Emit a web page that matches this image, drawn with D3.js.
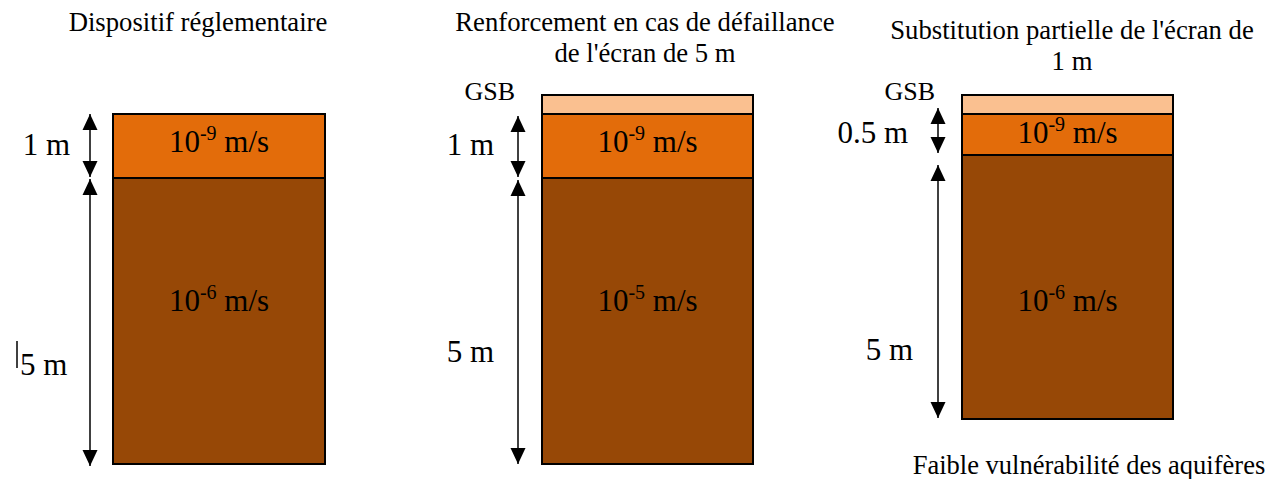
<!DOCTYPE html>
<html>
<head>
<meta charset="utf-8">
<script src="https://cdn.jsdelivr.net/npm/d3@7"></script>
<style>
  body { margin: 0; background: #fff; }
  svg text { font-family: "Liberation Serif", "DejaVu Serif", serif; }
</style>
</head>
<body>
<svg id="drawing_region"></svg>
<script>
// ---- data ----
const titles = [
    ["Dispositif réglementaire"],
    ["Renforcement en cas de défaillance", "de l'écran de 5 m"],
    ["Substitution partielle de l'écran de", "1 m"]
];
const layerNames = ["GSB", "écran", "sol"];
const gsbThickness = [0, 0.3, 0.3];        // couche GSB (schématique)
const screenThickness = [1, 1, 0.5];      // m
const soilThickness = [5, 5, 5];          // m
const screenExponent = [-9, -9, -9];      // perméabilité 10^x m/s
const soilExponent = [-6, -5, -6];
const thicknessLabels = [["1 m", "5 m"], ["1 m", "5 m"], ["0.5 m", "5 m"]];
const footnote = "Faible vulnérabilité des aquifères";

const colors = { "GSB": "#FAC090", "écran": "#E36C0A", "sol": "#974806" };

// ---- layout ----
const width = 1268, height = 479;
const layout = [
    { x: 113, w: 212, stops: [95, 114, 178, 464], arrowX: 90, titleX: 198, titleY: 31,
      labelX: [70, 20], labelAnchor: ["end", "start"], labelY: [155, 375], permY: [152, 311],
      arrowPad: [[0, -1], [1, 2]] },
    { x: 542, w: 211, stops: [95, 114, 178, 464], arrowX: 518, titleX: 645, titleY: 31,
      labelX: [494, 494], labelAnchor: ["end", "end"], labelY: [155, 362], permY: [152, 311],
      arrowPad: [[2, -1], [2, 0]] },
    { x: 962, w: 211, stops: [95, 114, 155, 419], arrowX: 938, titleX: 1072, titleY: 39,
      labelX: [908, 913], labelAnchor: ["end", "end"], labelY: [143, 360], permY: [143, 311],
      arrowPad: [[-6, -2], [10, -1]] }
];

const svg = d3.select('#drawing_region')
    .attr('width', width)
    .attr('height', height)
    .attr('font-family', '"Liberation Serif", "DejaVu Serif", serif');

const defs = svg.append('defs');
['start', 'end'].forEach(k => {
    defs.append('marker')
        .attr('id', 'arrow-' + k)
        .attr('markerUnits', 'userSpaceOnUse')
        .attr('viewBox', '0 -8 16 16')
        .attr('refX', 16).attr('refY', 0)
        .attr('markerWidth', 16).attr('markerHeight', 16)
        .attr('orient', k == 'start' ? 'auto-start-reverse' : 'auto')
        .append('path')
        .attr('d', 'M0,-7.5L16,0L0,7.5Z')
        .attr('fill', '#000');
});

titles.forEach((t, i) => {
    const L = layout[i];
    const panel = svg.append('g');

    // layers built from the thickness arrays
    const thick = [gsbThickness[i], screenThickness[i], soilThickness[i]];
    const bounds = [-thick[0], 0, thick[1], thick[1] + thick[2]];
    const y = d3.scaleLinear().domain(bounds).range(L.stops);

    const layers = layerNames.map((name, j) => ({
        name: name, top: bounds[j], bottom: bounds[j + 1], thick: thick[j]
    })).filter(d => d.thick > 0);

    panel.selectAll('rect.layer')
        .data(layers)
        .join('rect')
        .attr('class', 'layer')
        .attr('x', L.x)
        .attr('y', d => y(d.top))
        .attr('width', L.w)
        .attr('height', d => y(d.bottom) - y(d.top))
        .attr('fill', d => colors[d.name])
        .attr('stroke', '#000')
        .attr('stroke-width', 2);

    // title
    panel.append('text')
        .attr('text-anchor', 'middle')
        .style('font-size', '26.7px')
        .selectAll('tspan')
        .data(t)
        .join('tspan')
        .attr('x', L.titleX)
        .attr('y', (d, k) => L.titleY + k * 31)
        .text(d => d);

    // permeability labels
    const perms = [screenExponent[i], soilExponent[i]];
    perms.forEach((e, k) => {
        const txt = panel.append('text')
            .attr('x', L.x + L.w / 2)
            .attr('y', L.permY[k])
            .attr('text-anchor', 'middle')
            .style('font-size', '31px');
        txt.append('tspan').text('10');
        txt.append('tspan').attr('dy', -12).style('font-size', '20px').text(String(e));
        txt.append('tspan').attr('dy', 12).text(' m/s');
    });

    // thickness arrows
    const spans = [[0, thick[1]], [thick[1], thick[1] + thick[2]]];
    panel.selectAll('line.arrow')
        .data(spans)
        .join('line')
        .attr('class', 'arrow')
        .attr('x1', L.arrowX).attr('x2', L.arrowX)
        .attr('y1', (d, k) => y(d[0]) + L.arrowPad[k][0])
        .attr('y2', (d, k) => y(d[1]) + L.arrowPad[k][1])
        .attr('stroke', '#000')
        .attr('stroke-width', 1.5)
        .attr('marker-start', 'url(#arrow-start)')
        .attr('marker-end', 'url(#arrow-end)');

    panel.selectAll('text.thick')
        .data(thicknessLabels[i])
        .join('text')
        .attr('class', 'thick')
        .attr('x', (d, k) => L.labelX[k])
        .attr('y', (d, k) => L.labelY[k])
        .attr('text-anchor', (d, k) => L.labelAnchor[k])
        .style('font-size', '31px')
        .text(d => d);

    if (gsbThickness[i] > 0) {
        panel.append('text')
            .attr('x', L.arrowX - 3)
            .attr('y', 100)
            .attr('text-anchor', 'end')
            .style('font-size', '26px')
            .text('GSB');
    }
});

// stray cursor mark in panel 1
svg.append('line')
    .attr('x1', 17).attr('x2', 17)
    .attr('y1', 341).attr('y2', 368)
    .attr('stroke', '#000').attr('stroke-width', 1.5);

svg.append('text')
    .attr('x', 1089)
    .attr('y', 474)
    .attr('text-anchor', 'middle')
    .style('font-size', '26.5px')
    .text(footnote);
</script>
</body>
</html>
